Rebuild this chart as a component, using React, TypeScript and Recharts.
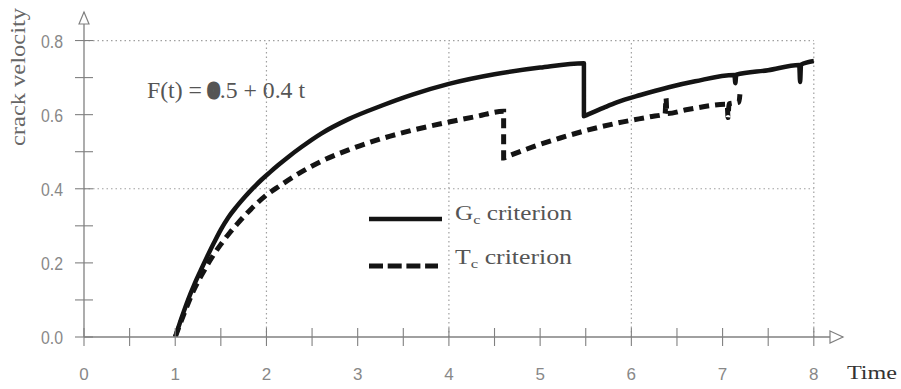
import React from 'react';
import { LineChart, Line, XAxis, YAxis, ReferenceLine, ReferenceDot } from 'recharts';

// G_c criterion (solid curve)
const gcTime = [1.0, 1.07, 1.14, 1.21, 1.28, 1.36, 1.43, 1.5, 1.58, 1.67, 1.76, 1.85, 1.94, 2.04, 2.13, 2.25, 2.38, 2.6, 2.9, 3.26, 3.6, 4.0, 4.5, 5.0, 5.48, 5.48, 5.52, 5.7, 5.84, 6.1, 6.41, 6.7, 7.13, 7.14, 7.15, 7.5, 7.84, 7.85, 7.86, 8.0];
const gcVelocity = [0.0, 0.052, 0.1, 0.142, 0.18, 0.222, 0.257, 0.29, 0.322, 0.351, 0.377, 0.401, 0.423, 0.445, 0.464, 0.488, 0.512, 0.549, 0.588, 0.624, 0.654, 0.683, 0.709, 0.727, 0.739, 0.596, 0.6, 0.619, 0.633, 0.653, 0.674, 0.69, 0.707, 0.685, 0.708, 0.72, 0.734, 0.688, 0.735, 0.745];

// T_c criterion (dashed curve)
const tcTime = [1.0, 1.1, 1.2, 1.3, 1.4, 1.5, 1.6, 1.69, 1.83, 2.0, 2.14, 2.3, 2.6, 2.9, 3.26, 3.6, 4.0, 4.3, 4.6, 4.6, 4.64, 4.92, 5.22, 5.5, 5.84, 6.2, 6.37, 6.38, 6.39, 6.6, 7.05, 7.06, 7.07, 7.18, 7.19];
const tcVelocity = [0.0, 0.065, 0.125, 0.172, 0.214, 0.25, 0.282, 0.308, 0.345, 0.383, 0.407, 0.433, 0.474, 0.505, 0.535, 0.558, 0.58, 0.595, 0.609, 0.483, 0.487, 0.513, 0.537, 0.557, 0.577, 0.594, 0.602, 0.645, 0.603, 0.613, 0.628, 0.592, 0.629, 0.634, 0.655];

const xTicks = [0, 0.5, 1, 1.5, 2, 2.5, 3, 3.5, 4, 4.5, 5, 5.5, 6, 6.5, 7, 7.5, 8];
const xTickLabels = ['0', '1', '2', '3', '4', '5', '6', '7', '8'];
const yTicks = [0, 0.1, 0.2, 0.3, 0.4, 0.5, 0.6, 0.7, 0.8];
const yTickLabels = ['0.0', '0.2', '0.4', '0.6', '0.8'];
const gridTimes = [2, 4, 6, 8];
const gridVelocities = [0.4, 0.8];
const xMax = 8.32;
const yMax = 0.877;

const xTitle = 'Time';
const yTitle = 'crack velocity';
const formulaParts = ['F(t) = ', '0', '.5 + 0.4 t'];
const legendNames = [
  { main: 'G', sub: 'c', rest: ' criterion' },
  { main: 'T', sub: 'c', rest: ' criterion' },
];

const gcData = gcTime.map((t, i) => ({ t, v: gcVelocity[i] }));
const tcData = tcTime.map((t, i) => ({ t, v: tcVelocity[i] }));

const AXIS = '#808080';
const GRID = '#a0a0a0';
const INK = '#141414';

const XTick = (props: any) => {
  const { x, y, payload } = props;
  const v = payload.value;
  const isInt = Math.abs(v - Math.round(v)) < 1e-6;
  const label = isInt ? xTickLabels[Math.round(v)] : null;
  return (
    <g>
      <line x1={x} x2={x} y1={y - 9} y2={y + 9} stroke={AXIS} strokeWidth={1.1} />
      {label !== null && (
        <text x={x} y={y + 43} textAnchor="middle" fontFamily="Liberation Sans" fontSize={17} fill="#888">
          {label}
        </text>
      )}
    </g>
  );
};

const YTick = (props: any) => {
  const { x, y, payload } = props;
  const v = payload.value;
  const idx = Math.round(v * 10);
  const label = idx % 2 === 0 ? yTickLabels[idx / 2] : null;
  return (
    <g>
      <line x1={x - 9} x2={x + 9} y1={y} y2={y} stroke={AXIS} strokeWidth={1.1} />
      {label !== null && (
        <text x={x - 21} y={y + 7} textAnchor="end" fontFamily="Liberation Sans" fontSize={18} fill="#888" textLength={22} lengthAdjust="spacingAndGlyphs">
          {label}
        </text>
      )}
    </g>
  );
};

const ArrowRight = (props: any) => {
  const { cx, cy } = props;
  return <path d={`M${cx - 13},${cy - 6} L${cx},${cy} L${cx - 13},${cy + 6} Z`} fill="#fff" stroke={AXIS} strokeWidth={1.2} />;
};
const ArrowUp = (props: any) => {
  const { cx, cy } = props;
  return <path d={`M${cx - 5},${cy + 12} L${cx},${cy} L${cx + 5},${cy + 12} Z`} fill="#fff" stroke={AXIS} strokeWidth={1.2} />;
};

export default function App() {
  return (
    <div style={{ position: 'absolute', left: 0, top: 0, width: 901, height: 389, background: '#fff' }}>
      <LineChart width={901} height={389} margin={{ top: 12, right: 58, bottom: 22, left: 24 }}>
        <XAxis
          type="number"
          dataKey="t"
          domain={[0, xMax]}
          ticks={xTicks}
          tick={<XTick />}
          tickSize={0}
          tickMargin={0}
          tickLine={false}
          axisLine={{ stroke: AXIS, strokeWidth: 1.3 }}
          height={30}
          allowDataOverflow
          interval={0}
        />
        <YAxis
          type="number"
          dataKey="v"
          domain={[0, yMax]}
          ticks={yTicks}
          tick={<YTick />}
          tickSize={0}
          tickMargin={0}
          tickLine={false}
          axisLine={{ stroke: AXIS, strokeWidth: 1.3 }}
          width={60}
          allowDataOverflow
          interval={0}
        />
        {gridTimes.map((g) => (
          <ReferenceLine key={'gx' + g} segment={[{ x: g, y: 0 }, { x: g, y: 0.8 }]} stroke={GRID} strokeDasharray="1.5 3" strokeWidth={1.2} />
        ))}
        {gridVelocities.map((g) => (
          <ReferenceLine key={'gy' + g} segment={[{ x: 0, y: g }, { x: 8, y: g }]} stroke={GRID} strokeDasharray="1.5 3" strokeWidth={1.2} />
        ))}
        <ReferenceDot x={xMax} y={0} r={0} shape={<ArrowRight />} />
        <ReferenceDot x={0} y={yMax} r={0} shape={<ArrowUp />} />
        <Line data={gcData} dataKey="v" type="monotone" stroke={INK} strokeWidth={4.5} dot={false} isAnimationActive={false} strokeLinejoin="round" />
        <Line data={tcData} dataKey="v" type="monotone" stroke={INK} strokeWidth={5} strokeDasharray="10 6" dot={false} isAnimationActive={false} />
      </LineChart>
      <svg width={901} height={389} style={{ position: 'absolute', left: 0, top: 0, pointerEvents: 'none' }}>
        <text transform="translate(25,77) rotate(-90)" textAnchor="middle" fontFamily="Liberation Serif" fontSize={21} fill="#666" textLength={138} lengthAdjust="spacingAndGlyphs">
          {yTitle}
        </text>
        <text x={847} y={379} fontFamily="Liberation Serif" fontSize={19} fill="#333" textLength={50} lengthAdjust="spacingAndGlyphs">
          {xTitle}
        </text>
        <text x={147} y={98} fontFamily="Liberation Serif" fontSize={23} fill="#555" textLength={158} lengthAdjust="spacingAndGlyphs">
          <tspan>{formulaParts[0]}</tspan>
          <tspan fontWeight="bold" stroke="#555" strokeWidth={3}>{formulaParts[1]}</tspan>
          <tspan>{formulaParts[2]}</tspan>
        </text>
        <line x1={369} x2={442} y1={219} y2={219} stroke={INK} strokeWidth={4.5} />
        <line x1={369} x2={438} y1={266} y2={266} stroke={INK} strokeWidth={5} strokeDasharray="14 4.7" />
        {legendNames.map((n, i) => (
          <text key={n.main} x={455} y={i === 0 ? 220 : 264} fontFamily="Liberation Serif" fontSize={20} fill="#555" textLength={117} lengthAdjust="spacingAndGlyphs">
            <tspan>{n.main}</tspan>
            <tspan dy={4} fontSize={13}>{n.sub}</tspan>
            <tspan dy={-4}>{n.rest}</tspan>
          </text>
        ))}
      </svg>
    </div>
  );
}
